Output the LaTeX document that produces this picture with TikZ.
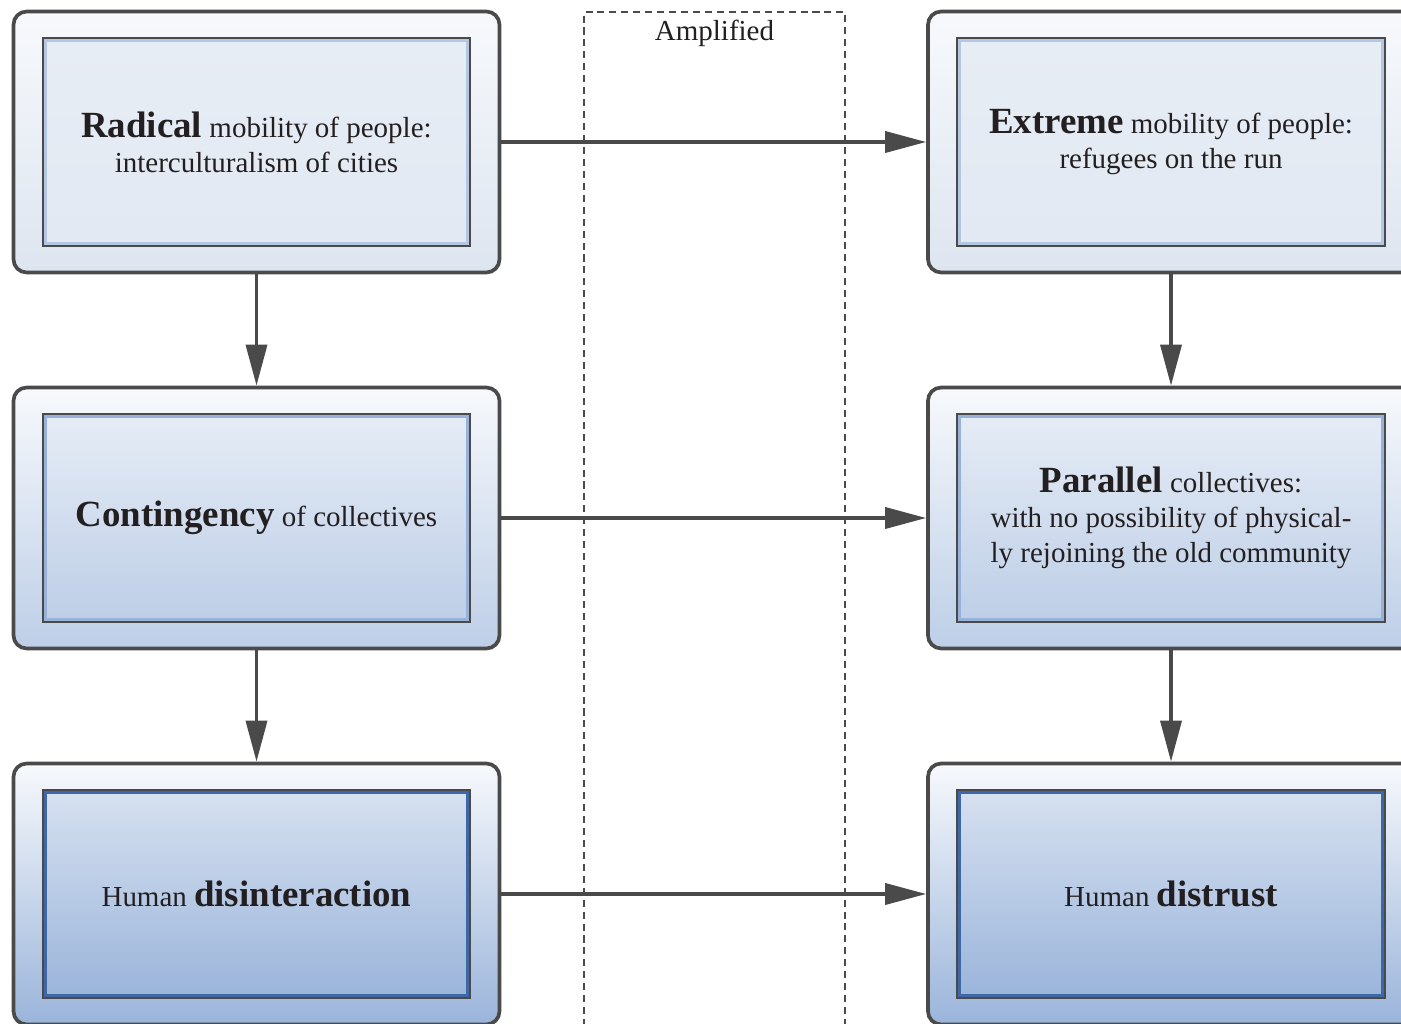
\documentclass[tikz,border=0pt]{standalone}
\usepackage{fontspec}
\setmainfont{Liberation Serif}
\usetikzlibrary{arrows.meta}

\definecolor{linegray}{HTML}{4A4A4A}
\definecolor{inkblack}{HTML}{231F20}
\definecolor{topwhite}{HTML}{F7F9FC}
\definecolor{paleblue}{HTML}{DDE5F0}
\definecolor{midblue}{HTML}{BDCEE7}
\definecolor{deepblue}{HTML}{9AB4DA}
\definecolor{rimpale}{HTML}{B3C6E2}
\definecolor{rimmid}{HTML}{98B1D8}
\definecolor{rimdeep}{HTML}{3D68A5}

\newcommand{\keyword}[1]{{\fontsize{21}{24}\selectfont\bfseries #1}}

\begin{document}
\begin{tikzpicture}[x=0.02cm, y=-0.02cm,
    outer/.style={draw=linegray, line width=2.1pt, rounded corners=0.26cm,
        minimum width=9.72cm, minimum height=5.22cm},
    inner/.style={draw=linegray, line width=1pt,
        minimum width=8.55cm, minimum height=4.15cm,
        align=center, text=inkblack, font=\fontsize{16.5}{19.8}\selectfont,
        path picture={\draw[#1, line width=4.4pt]
            (path picture bounding box.south west) rectangle
            (path picture bounding box.north east);}},
    arr/.style={draw=linegray, line width=2pt,
        -{Triangle[length=0.82cm, width=0.42cm]}},
    ampbox/.style={draw=linegray, line width=1.3pt, dash pattern=on 4pt off 2.8pt,
        minimum width=5.22cm, minimum height=20.56cm}]
    \useasboundingbox (0,0) rectangle (1401,1024);

    % the amplified band
    \node[ampbox] (amp) at (714.5,526) {};
    \node[text=inkblack, font=\fontsize{16.5}{19.8}\selectfont] (amplabel) at (714.5,33) {Amplified};

    % left column
    \node[outer, top color=topwhite, bottom color=paleblue] (radical) at (256.5,142) {};
    \node[inner=rimpale, top color=paleblue!60!topwhite, bottom color=paleblue!85!white] (radicaltxt) at (radical)
        {\keyword{Radical} mobility of people:\\ interculturalism of cities};

    \node[outer, top color=topwhite, middle color=midblue!60!topwhite, bottom color=midblue] (contingency) at (256.5,518) {};
    \node[inner=rimmid, top color=midblue!30!topwhite, bottom color=midblue] (contingencytxt) at (contingency)
        {\keyword{Contingency} of collectives};

    \node[outer, top color=topwhite, middle color=deepblue!85!white, bottom color=deepblue] (disinteraction) at (256.5,894) {};
    \node[inner=rimdeep, top color=deepblue!35!topwhite, middle color=deepblue!90!white, bottom color=deepblue] (disinteractiontxt) at (disinteraction)
        {Human \keyword{disinteraction}};

    % right column
    \node[outer, top color=topwhite, bottom color=paleblue] (extreme) at (1171,142) {};
    \node[inner=rimpale, top color=paleblue!60!topwhite, bottom color=paleblue!85!white] (extremetxt) at (extreme)
        {\keyword{Extreme} mobility of people:\\ refugees on the run};

    \node[outer, top color=topwhite, middle color=midblue!60!topwhite, bottom color=midblue] (parallel) at (1171,518) {};
    \node[inner=rimmid, top color=midblue!30!topwhite, bottom color=midblue] (paralleltxt) at (parallel)
        {\keyword{Parallel} collectives:\\ with no possibility of physical-\\ ly rejoining the old community};

    \node[outer, top color=topwhite, middle color=deepblue!85!white, bottom color=deepblue] (distrust) at (1171,894) {};
    \node[inner=rimdeep, top color=deepblue!35!topwhite, middle color=deepblue!90!white, bottom color=deepblue] (distrusttxt) at (distrust)
        {Human \keyword{distrust}};

    % arrows
    \draw[arr] (radical) -- (extreme);
    \draw[arr] (contingency) -- (parallel);
    \draw[arr] (disinteraction) -- (distrust);
    \draw[arr] (radical) -- (contingency);
    \draw[arr] (contingency) -- (disinteraction);
    \draw[arr] (extreme) -- (parallel);
    \draw[arr] (parallel) -- (distrust);
\end{tikzpicture}
\end{document}
